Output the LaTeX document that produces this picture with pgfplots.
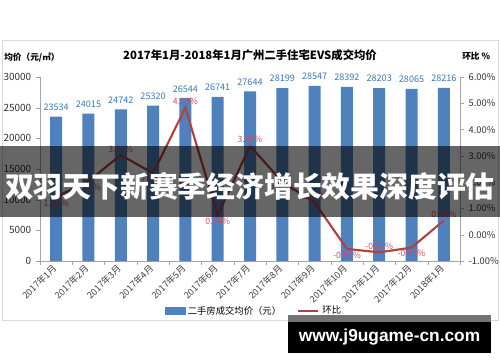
\documentclass[border=0pt]{standalone}
\usepackage{fontspec}
\setmainfont{Noto Sans CJK SC}
\newfontfamily\lsans{Liberation Sans}
\usepackage{pgfplots}
\pgfplotsset{compat=1.18}
\usepackage{pgfplotstable}
\definecolor{barblue}{HTML}{4F81BD}
\definecolor{linered}{HTML}{B0433F}
\definecolor{pctred}{HTML}{D9475F}
\definecolor{lblblue}{HTML}{3B78B8}
\definecolor{axgray}{HTML}{A6A6A6}
\definecolor{framegray}{HTML}{D9D9D9}
\pgfplotsset{/pgf/number format/assume math mode=true}

\pgfplotstableread{
x price pct
0 23534 1.44
1 24015 2.04
2 24742 3.03
3 25320 2.34
4 26544 4.83
5 26741 0.74
6 27644 3.38
7 28199 2.01
8 28547 1.23
9 28392 -0.54
10 28203 -0.67
11 28065 -0.49
12 28216 0.54
}\data
% labels placed below the point
\pgfplotstableread{
x pct
0 1.44
1 2.04
3 2.34
5 0.74
7 2.01
9 -0.54
11 -0.49
}\below
% labels placed above the point
\pgfplotstableread{
x pct
2 3.03
4 4.83
6 3.38
8 1.23
10 -0.67
12 0.54
}\above

\begin{document}
\begin{tikzpicture}[x=0.75pt,y=0.75pt]
\path[use as bounding box, fill=white] (0,0) rectangle (500,362);
\draw[framegray] (2,42) rectangle (498,322);

\begin{axis}[at={(30pt,75.75pt)}, anchor=south west, scale only axis,
  width=315pt, height=138pt,
  xmin=-0.5, xmax=12.5, ymin=0, ymax=30000,
  ybar, bar width=9pt,
  axis y line*=left, axis x line*=bottom,
  axis line style={axgray},
  tick style={axgray},
  tick align=outside,
  xtick={0,...,12},
  xticklabels={2017年1月,2017年2月,2017年3月,2017年4月,2017年5月,2017年6月,2017年7月,2017年8月,2017年9月,2017年10月,2017年11月,2017年12月,2018年1月},
  major x tick style={draw=none},
  minor xtick={-0.5,0.5,...,12.5},
  minor tick length=3pt,
  major tick length=3pt,
  x tick label style={rotate=45, anchor=east, font=\fontsize{6.8}{8}\selectfont, text=black!75, inner sep=1.5pt},
  ytick={0,5000,...,30000},
  scaled y ticks=false,
  y tick label style={font=\fontsize{7.5}{8}\selectfont, /pgf/number format/1000 sep={}, text=black!80},
  nodes near coords,
  nodes near coords style={font=\fontsize{6.8}{8}\selectfont, text=lblblue, /pgf/number format/1000 sep={}, yshift=1pt},
  clip=false,
]
\addplot[fill=barblue, draw=none] table[x=x, y=price] {\data};
\end{axis}

\begin{axis}[at={(30pt,75.75pt)}, anchor=south west, scale only axis,
  width=315pt, height=138pt,
  xmin=-0.5, xmax=12.5, ymin=-1, ymax=6,
  axis y line*=right, axis x line=none,
  axis line style={axgray},
  tick style={axgray},
  tick align=outside, major tick length=3pt,
  ytick={-1,0,...,6},
  yticklabel={\pgfmathprintnumber[fixed,fixed zerofill,precision=2]{\tick}\%},
  y tick label style={font=\fontsize{7}{8}\selectfont, text=black!80},
  clip=false,
  legend style={at={(0.51,-0.272)}, anchor=center, draw=none, fill=none,
    legend columns=2, font=\fontsize{7}{8}\selectfont,
    /tikz/every even column/.append style={column sep=10pt}},
  legend cell align=left,
  pctlbl/.style={draw=none, mark=none, forget plot,
    nodes near coords={\pgfmathprintnumber[fixed,fixed zerofill,precision=2]{\pgfplotspointmeta}\%},
    point meta=explicit},
]
\addlegendimage{legend image code/.code={\fill[barblue] (0pt,-2.5pt) rectangle (15pt,2.5pt);}}
\addlegendentry{二手房成交均价（元）}
\addlegendimage{legend image code/.code={\draw[linered, line width=2pt] (0pt,0pt) -- (15pt,0pt);}}
\addlegendentry{环比}
\addplot[linered, line width=1.6pt, mark=none, forget plot] table[x=x, y=pct] {\data};
\addplot[pctlbl, every node near coord/.append style={anchor=north, font=\fontsize{6.5}{7}\selectfont, text=pctred, inner sep=2pt}] table[x=x, y=pct, meta=pct] {\below};
\addplot[pctlbl, every node near coord/.append style={anchor=south, font=\fontsize{6.5}{7}\selectfont, text=pctred, inner sep=2pt}] table[x=x, y=pct, meta=pct] {\above};
\end{axis}

\node[font=\bfseries\fontsize{8.5}{10}\selectfont] at (250,307) {2017年1月-2018年1月广州二手住宅EVS成交均价};
\node[font=\bfseries\fontsize{6.5}{8}\selectfont, anchor=west, inner sep=0pt] at (4,305) {均价（元/㎡）};
\node[font=\bfseries\fontsize{6.5}{8}\selectfont, anchor=west, inner sep=0pt] at (462,306) {环比 \%};

\fill[black, opacity=0.6] (0,145) rectangle (500,216);
\node[text=white, font=\bfseries\fontsize{21.6}{24}\selectfont, anchor=base, inner sep=0pt] at (250,165) {双羽天下新赛季经济增长效果深度评估};

\fill[black!55] (288,40) rectangle (491,47);
\fill[black] (288,9) rectangle (491,40);
\node[text=white, font=\lsans\bfseries\fontsize{13}{15}\selectfont] at (389.5,25) {www.j9ugame-cn.com};
\end{tikzpicture}
\end{document}
